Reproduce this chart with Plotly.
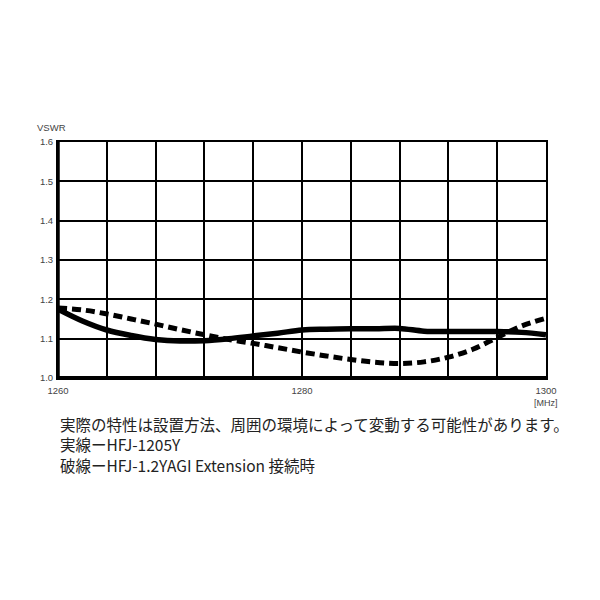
import plotly.graph_objects as go

freq = [1260, 1262, 1264, 1266, 1268, 1270, 1272, 1274, 1276, 1278, 1280,
        1282, 1284, 1286, 1288, 1290, 1292, 1294, 1296, 1298, 1300]
solid_vswr = [1.175, 1.145, 1.122, 1.108, 1.098, 1.094, 1.095, 1.100, 1.107, 1.114, 1.122,
              1.124, 1.125, 1.125, 1.126, 1.119, 1.118, 1.118, 1.118, 1.116, 1.110]
dashed_vswr = [1.178, 1.173, 1.163, 1.150, 1.137, 1.123, 1.110, 1.098, 1.088, 1.077, 1.066,
               1.056, 1.047, 1.040, 1.037, 1.041, 1.053, 1.073, 1.103, 1.132, 1.152]

x_ticks = list(range(1260, 1301, 4))
x_ticktext = [str(v) if v in (1260, 1280, 1300) else "" for v in x_ticks]
y_ticks = [1.0, 1.1, 1.2, 1.3, 1.4, 1.5, 1.6]

notes = [
    "実際の特性は設置方法、周囲の環境によって変動する可能性があります。",
    "実線ーHFJ-1205Y",
    "破線ーHFJ-1.2YAGI Extension 接続時",
]

fig = go.Figure()
fig.add_trace(go.Scatter(x=freq, y=dashed_vswr, mode="lines", line_shape="spline",
                         line=dict(color="black", width=5, dash="9px,5px"), showlegend=False))
fig.add_trace(go.Scatter(x=freq, y=solid_vswr, mode="lines", line_shape="spline",
                         line=dict(color="black", width=5.5), showlegend=False))

tick_font = dict(family="Liberation Sans, Arial", size=9.5, color="#444")
fig.update_layout(
    width=600, height=600,
    margin=dict(l=50, r=62, t=134, b=230),
    paper_bgcolor="white", plot_bgcolor="white",
    xaxis=dict(range=[1260, 1300], tickvals=x_ticks, ticktext=x_ticktext,
               showgrid=True, gridcolor="black", gridwidth=1.5,
               showline=True, linecolor="black", linewidth=2, mirror=True,
               zeroline=False, ticks="", tickfont=tick_font, ticklabelstandoff=3),
    yaxis=dict(range=[1.0, 1.6], tickvals=y_ticks, tickformat=".1f",
               showgrid=True, gridcolor="black", gridwidth=1.5,
               showline=True, linecolor="black", linewidth=2, mirror=True,
               zeroline=False, ticks="", tickfont=tick_font, ticklabelstandoff=1),
    font=dict(family="Noto Sans CJK JP"),
)
# thicker left and bottom frame
fig.add_shape(type="line", xref="paper", yref="paper", x0=0, x1=0, y0=0, y1=1,
              line=dict(color="black", width=3.5))
fig.add_shape(type="line", xref="paper", yref="paper", x0=0, x1=1, y0=0, y1=0,
              line=dict(color="black", width=4))

fig.add_annotation(text="VSWR", xref="paper", yref="paper", x=-0.047, y=1.03,
                   xanchor="left", yanchor="bottom", showarrow=False, font=tick_font)
fig.add_annotation(text="[MHz]", xref="paper", yref="paper", x=1.0, y=-0.078,
                   xanchor="center", yanchor="top", showarrow=False,
                   font=dict(family="Liberation Sans, Arial", size=9, color="#444"))

for i, line in enumerate(notes):
    fig.add_annotation(text=line, xref="paper", yref="paper", x=0.0, y=-0.138 - i * 0.088,
                       xanchor="left", yanchor="top", showarrow=False,
                       font=dict(family="Noto Sans CJK JP", size=15.5, color="#222"))

fig.write_html("out.html")
